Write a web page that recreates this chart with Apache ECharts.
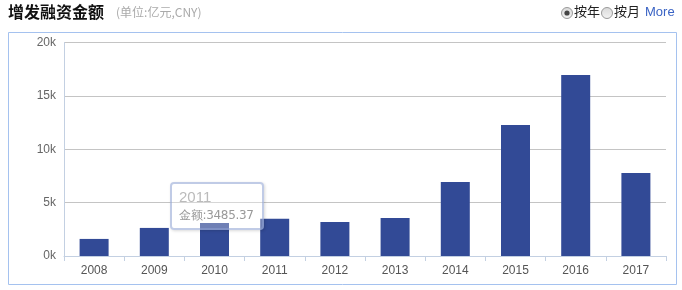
<!DOCTYPE html>
<html>
<head>
<meta charset="utf-8">
<script src="https://cdn.jsdelivr.net/npm/echarts@6/dist/echarts.min.js"></script>
<style>
html,body{margin:0;padding:0;background:#fff;}
#c{width:682px;height:290px;}
</style>
</head>
<body>
<div id="c"></div>
<script>
const categories = ['2008','2009','2010','2011','2012','2013','2014','2015','2016','2017'];
const amounts = [1600, 2630, 3100, 3485.37, 3190, 3560, 6940, 12270, 16950, 7780];
const yTicks = [0, 5000, 10000, 15000, 20000];
const titleText = '增发融资金额';
const unitText = '(单位:亿元,CNY)';
const tipName = '金额';

const chart = echarts.init(document.getElementById('c'), null, {renderer: 'canvas'});
const labelFont = '"Liberation Sans Narrow", "Liberation Sans", sans-serif';
const option = {
  animation: false,
  backgroundColor: '#fff',
  grid: {left: 64, right: 16, top: 42.5, bottom: 34},
  tooltip: {
    trigger: 'item',
    triggerOn: 'none',
    alwaysShowContent: true,
    transitionDuration: 0,
    position: [170, 182],
    backgroundColor: 'rgba(255,255,255,0.3)',
    borderColor: 'rgba(140,160,210,0.55)',
    borderWidth: 2,
    borderRadius: 4,
    padding: [3, 7, 4, 7],
    extraCssText: 'box-shadow:1px 1px 3px rgba(0,0,0,0.15);width:76px;',
    formatter: function (p) {
      return '<div style="font:15px ' + labelFont.replace(/"/g, "'") + ';color:#bbb;line-height:19px">' + p.name + '</div>' +
        '<div style="font:12px \'DejaVu Sans\',sans-serif;color:#999;line-height:18px;letter-spacing:-0.3px">' + tipName + ':' + p.value + '</div>';
    }
  },
  xAxis: {
    type: 'category',
    data: categories,
    boundaryGap: true,
    axisLine: {lineStyle: {color: '#c3d0e2', width: 1}},
    axisTick: {show: true, alignWithLabel: false, length: 5, lineStyle: {color: '#c3d0e2'}},
    axisLabel: {color: '#555', fontSize: 12, fontFamily: labelFont, margin: 9}
  },
  yAxis: {
    type: 'value',
    min: yTicks[0],
    max: yTicks[yTicks.length - 1],
    interval: yTicks[1] - yTicks[0],
    axisLine: {show: true, lineStyle: {color: '#c3d0e2'}},
    axisTick: {show: false},
    splitLine: {lineStyle: {color: '#c4c4c4', width: 1}},
    axisLabel: {color: '#666', fontSize: 12, fontFamily: labelFont, margin: 8,
      formatter: function (v) { return (v / 1000) + 'k'; }}
  },
  series: [{
    type: 'bar',
    name: tipName,
    data: amounts,
    barWidth: 29,
    itemStyle: {color: '#324a96'}
  }],
  graphic: [
    {type: 'rect', shape: {x: 8.5, y: 32.5, width: 668, height: 252}, style: {fill: 'none', stroke: '#a5c2ef', lineWidth: 1}, z: -1},
    {type: 'text', left: 8, top: 4, style: {text: titleText, font: 'bold 16px "Noto Sans CJK SC", sans-serif', fill: '#111'}},
    {type: 'text', left: 116, top: 6, style: {text: unitText, font: '12px "Noto Sans CJK SC", sans-serif', fill: '#aaa'}},
    {type: 'circle', shape: {cx: 567, cy: 13, r: 5.5}, style: {fill: new echarts.graphic.LinearGradient(0,0,0,1,[{offset:0,color:'#d8d8d8'},{offset:1,color:'#f4f4f4'}]), stroke: '#9a9a9a', lineWidth: 1}},
    {type: 'circle', shape: {cx: 567, cy: 13, r: 2.6}, style: {fill: '#444'}},
    {type: 'text', left: 574, top: 5, style: {text: '按年', font: '13px "Noto Sans CJK SC", sans-serif', fill: '#222'}},
    {type: 'circle', shape: {cx: 607, cy: 13, r: 5.5}, style: {fill: new echarts.graphic.LinearGradient(0,0,0,1,[{offset:0,color:'#d8d8d8'},{offset:1,color:'#f4f4f4'}]), stroke: '#9a9a9a', lineWidth: 1}},
    {type: 'text', left: 614, top: 5, style: {text: '按月', font: '13px "Noto Sans CJK SC", sans-serif', fill: '#222'}},
    {type: 'text', left: 645, top: 6, style: {text: 'More', font: '13px "Liberation Sans", sans-serif', fill: '#3a63c4'}}
  ]
};
chart.setOption(option);
chart.dispatchAction({type: 'showTip', seriesIndex: 0, dataIndex: 3});
</script>
</body>
</html>
